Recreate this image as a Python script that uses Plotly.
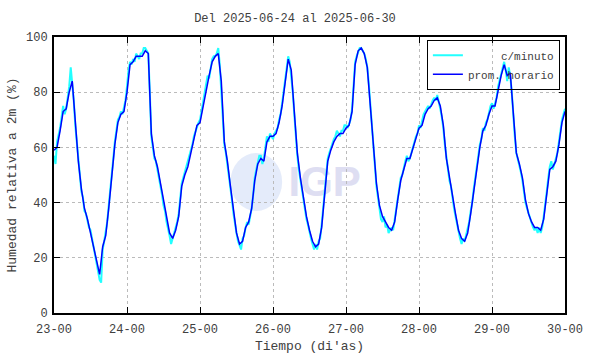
import plotly.graph_objects as go

# Hourly averages (prom. horario), one list per day, hours 0..23
d23 = [59, 60, 66, 73, 74, 80, 84, 70, 55, 45, 38, 34, 29, 25, 19, 14, 24, 28, 38, 50, 61, 69, 72, 73]
d24 = [80, 90, 91, 93, 93, 93, 95, 94, 65, 57, 53, 47, 40, 34, 29, 27, 30, 35, 46, 50, 53, 58, 63, 68]
d25 = [69, 75, 81, 86, 91, 93, 94, 84, 62, 55, 46, 37, 29, 25, 26, 31, 33, 38, 48, 54, 56, 55, 62, 64]
d26 = [64, 65, 69, 75, 84, 92, 88, 73, 58, 49, 42, 35, 30, 26, 24, 25, 31, 44, 55, 59, 62, 64, 65, 65]
d27 = [67, 68, 73, 90, 95, 96, 94, 89, 76, 60, 47, 39, 35, 33, 31, 30, 33, 41, 48, 52, 56, 56, 60, 63]
d28 = [67, 68, 72, 74, 75, 77, 78, 75, 68, 56, 49, 42, 36, 30, 27, 26, 29, 36, 44, 52, 60, 66, 68, 72]
d29 = [75, 75, 81, 86, 90, 86, 87, 72, 58, 54, 49, 41, 36, 33, 31, 31, 30, 34, 43, 52, 53, 55, 61, 69]
end_hourly = [73]

# Sampled "c/minuto" readings (every 30 min), one list per day
c23 = [57, 54, 62, 64, 67, 71, 75, 72, 74, 78, 82, 89, 83, 77, 68, 62, 54, 50, 44, 42, 37, 36, 33, 31,
       30, 27, 24, 21, 18, 16, 12, 11, 23, 26, 29, 33, 39, 44, 51, 56, 62, 66, 70, 71, 73, 72, 75, 77]
c24 = [82, 88, 91, 90, 92, 91, 94, 93, 92, 94, 94, 96, 96, 95, 94, 80, 64, 60, 56, 55, 52, 50, 46, 43,
       39, 37, 33, 31, 28, 25, 27, 29, 31, 33, 36, 41, 47, 49, 51, 52, 54, 56, 59, 61, 64, 66, 67, 69]
c25 = [70, 73, 77, 79, 83, 86, 85, 89, 92, 93, 93, 94, 96, 90, 80, 68, 61, 58, 54, 50, 45, 41, 36, 32,
       29, 26, 24, 23, 27, 28, 31, 33, 32, 35, 38, 43, 49, 52, 55, 57, 57, 54, 56, 60, 64, 62, 65, 64]
c26 = [63, 65, 66, 67, 70, 72, 76, 80, 85, 89, 93, 91, 86, 80, 72, 64, 57, 52, 48, 45, 41, 38, 34, 32,
       29, 27, 25, 23, 25, 23, 26, 27, 32, 38, 45, 51, 56, 58, 60, 61, 63, 64, 66, 65, 64, 66, 66, 68]
c27 = [68, 67, 69, 70, 74, 82, 91, 93, 95, 96, 96, 95, 94, 92, 89, 83, 75, 67, 59, 53, 46, 42, 38, 34,
       33, 35, 31, 32, 29, 30, 31, 30, 34, 38, 42, 45, 49, 50, 53, 55, 57, 55, 56, 58, 61, 62, 64, 65]
c28 = [68, 67, 70, 72, 73, 74, 75, 74, 76, 77, 78, 77, 79, 77, 74, 71, 67, 61, 56, 52, 48, 46, 41, 38,
       35, 32, 29, 27, 25, 27, 26, 28, 30, 33, 37, 40, 45, 49, 53, 57, 61, 63, 67, 66, 69, 70, 73, 75]
c29 = [76, 74, 76, 78, 82, 84, 87, 89, 91, 88, 84, 89, 86, 80, 71, 64, 58, 56, 53, 51, 48, 44, 40, 38,
       36, 34, 32, 31, 30, 31, 29, 31, 29, 31, 35, 39, 44, 49, 53, 55, 52, 54, 56, 58, 62, 66, 70, 72]
end_minute = [74]

tick_labels = ["23-00", "24-00", "25-00", "26-00", "27-00", "28-00", "29-00", "30-00"]
y_ticks = [0, 20, 40, 60, 80, 100]

hourly = d23 + d24 + d25 + d26 + d27 + d28 + d29 + end_hourly
minute = c23 + c24 + c25 + c26 + c27 + c28 + c29 + end_minute
x_hourly = list(range(len(hourly)))
x_minute = [i * 0.5 for i in range(len(minute))]

FONT = "Liberation Mono, Courier New, monospace"
GRAY = "#404040"
NB = "\u00a0"

fig = go.Figure()
fig.add_trace(go.Scatter(x=x_minute, y=minute, mode="lines", name=NB * 5 + "c/minuto",
                         line=dict(color="#22ffff", width=2)))
fig.add_trace(go.Scatter(x=x_hourly, y=hourly, mode="lines", name="prom. horario",
                         line=dict(color="#0000ff", width=1.5)))

# watermark (drawn below the data)
fig.add_shape(type="circle", xref="x", yref="y", x0=58, x1=75, y0=37, y1=58,
              fillcolor="rgba(205,218,246,0.55)", line=dict(width=0), layer="below")
fig.add_shape(type="rect", xref="x", yref="y", x0=78, x1=100, y0=40, y1=58,
              fillcolor="rgba(0,0,0,0)", line=dict(width=0), layer="below",
              label=dict(text="<b>IGP</b>", font=dict(size=42, color="#dedef2",
                                                    family="Liberation Sans, Arial"),
                         textposition="middle center"))

fig.update_layout(
    width=590, height=354,
    margin=dict(l=54, r=25, t=37, b=41, autoexpand=False),
    paper_bgcolor="white", plot_bgcolor="white",
    font=dict(family=FONT, size=12, color=GRAY),
    title=dict(text="Del 2025-06-24 al 2025-06-30", x=0.5, xanchor="center",
               y=0.95, yanchor="middle", font=dict(family=FONT, size=12, color=GRAY)),
    showlegend=True,
    legend=dict(x=0.99, y=0.99, xanchor="right", yanchor="top",
                bgcolor="rgba(255,255,255,0)", bordercolor="black", borderwidth=1,
                font=dict(family=FONT, size=11, color=GRAY),
                tracegroupgap=0, itemwidth=30),
)
fig.update_xaxes(range=[0, 168], tickvals=[i * 24 for i in range(8)], ticktext=tick_labels,
                 showgrid=True, gridcolor="#bbbbbb", griddash="dot", gridwidth=1,
                 ticks="inside", ticklen=6, tickcolor="black", mirror="ticks",
                 showline=True, linecolor="black", linewidth=2, zeroline=False,
                 ticklabelstandoff=4, automargin=False,
                 title=dict(text="Tiempo (di'as)", font=dict(family=FONT, size=13, color=GRAY),
                            standoff=6))
fig.update_yaxes(range=[0, 100], tickvals=y_ticks,
                 showgrid=True, gridcolor="#bbbbbb", griddash="dot", gridwidth=1,
                 ticks="inside", ticklen=6, tickcolor="black", mirror="ticks",
                 showline=True, linecolor="black", linewidth=2, zeroline=False,
                 ticklabelstandoff=2, automargin=False,
                 title=dict(text="Humedad relativa a 2m (%)",
                            font=dict(family=FONT, size=13, color=GRAY), standoff=6))

fig.write_html("out.html")
